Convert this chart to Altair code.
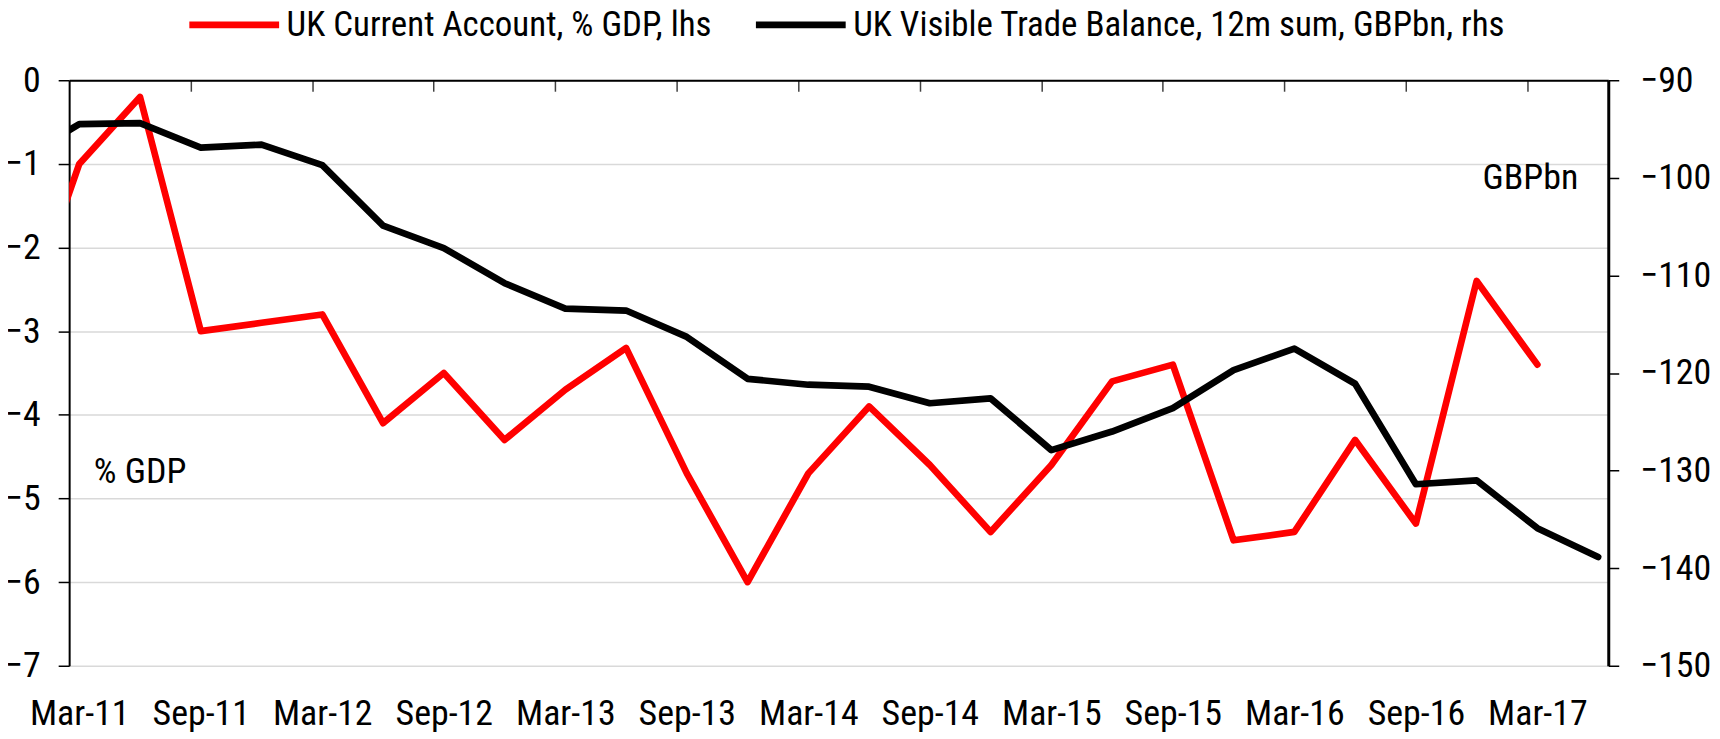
import altair as alt
import pandas as pd

# ---------------- data ----------------
ca_quarters = ["Dec-10", "Mar-11", "Jun-11", "Sep-11", "Dec-11", "Mar-12", "Jun-12", "Sep-12",
               "Dec-12", "Mar-13", "Jun-13", "Sep-13", "Dec-13", "Mar-14", "Jun-14", "Sep-14",
               "Dec-14", "Mar-15", "Jun-15", "Sep-15", "Dec-15", "Mar-16", "Jun-16", "Sep-16",
               "Dec-16", "Mar-17"]
ca_values = [-3.1, -1.0, -0.2, -3.0, -2.9, -2.8, -4.1, -3.5,
             -4.3, -3.7, -3.2, -4.7, -6.0, -4.7, -3.9, -4.6,
             -5.4, -4.6, -3.6, -3.4, -5.5, -5.4, -4.3, -5.3,
             -2.4, -3.4]

tb_quarters = ca_quarters + ["Jun-17"]
tb_values = [-98.2, -94.5, -94.4, -96.9, -96.6, -98.7, -104.9, -107.2,
             -110.8, -113.4, -113.6, -116.3, -120.6, -121.2, -121.4, -123.1,
             -122.6, -127.9, -126.0, -123.6, -119.7, -117.5, -121.1, -131.4,
             -131.0, -135.9, -138.85]

tick_labels = ["Mar-11", "Sep-11", "Mar-12", "Sep-12", "Mar-13", "Sep-13", "Mar-14",
               "Sep-14", "Mar-15", "Sep-15", "Mar-16", "Sep-16", "Mar-17"]

CA_NAME = "UK Current Account, % GDP, lhs"
TB_NAME = "UK Visible Trade Balance, 12m sum, GBPbn, rhs"

# annotation texts (month position, value on own axis)
gdp_note = {"t": ["% GDP"], "m": [1.22], "v": [-4.81]}
gbp_note = {"t": ["GBPbn"], "m": [74.52], "v": [-101.14]}

MONTHS = {"Mar": 3, "Jun": 6, "Sep": 9, "Dec": 12}


def month_pos(q):
    mon, yy = q.split("-")
    return (2000 + int(yy) - 2011) * 12 + MONTHS[mon] - 3 + 0.5


ca_df = pd.DataFrame({"q": ca_quarters, "m": [month_pos(q) for q in ca_quarters],
                      "v": ca_values, "series": CA_NAME})
tb_df = pd.DataFrame({"q": tb_quarters, "m": [month_pos(q) for q in tb_quarters],
                      "v": tb_values, "series": TB_NAME})

# ---------------- styling ----------------
FONT = "Roboto Condensed"
FS = 36
W, H = 1543, 587
N_MONTHS = 76

x_scale = alt.Scale(domain=[0, N_MONTHS], nice=False, zero=False)
yl_scale = alt.Scale(domain=[-7, 0], nice=False, zero=False)
yr_scale = alt.Scale(domain=[-150, -90], nice=False, zero=False)

color = alt.Color(
    "series:N",
    scale=alt.Scale(domain=[CA_NAME, TB_NAME], range=["#ff0000", "#000000"]),
    legend=alt.Legend(
        orient="none", legendX=117, legendY=-75.5, direction="horizontal", columns=2,
        title=None, symbolType="stroke", symbolSize=8100, symbolStrokeWidth=6.7,
        labelFont=FONT, labelFontSize=35, labelColor="black", labelOffset=4,
        columnPadding=40, clipHeight=40, padding=0, labelLimit=2000,
    ),
)

label_vals = [0.5 + 6 * i for i in range(len(tick_labels))]
label_expr = "[" + ",".join("'%s'" % t for t in tick_labels) + "][floor(datum.value/6)]"

x_label_axis = alt.Axis(
    orient="bottom", values=label_vals, labelExpr=label_expr, ticks=False, tickSize=0,
    domain=False, grid=False, labelFont=FONT, labelFontSize=FS, labelColor="black",
    labelPadding=59, labelBaseline="alphabetic", labelFlush=False, labelOverlap=False,
    title=None,
)
x_tick_axis = alt.Axis(
    orient="bottom", offset=-H, values=[6 * i for i in range(1, 13)], labels=False,
    ticks=True, tickSize=11, tickColor="#404040", tickWidth=1.5, domain=True,
    domainColor="black", domainWidth=2, grid=False, title=None,
)

left_axis = alt.Axis(
    orient="left", values=list(range(-7, 1)), grid=True, gridColor="#d9d9d9",
    gridWidth=1.5, domainColor="black", domainWidth=2, tickColor="black",
    tickSize=11, tickWidth=1.5, labelFont=FONT, labelFontSize=FS, labelColor="black",
    labelPadding=18, title=None,
)
right_axis = alt.Axis(
    orient="right", values=list(range(-150, -89, 10)), grid=False, domainColor="black",
    domainWidth=3, tickColor="black", tickSize=10.5, tickWidth=1.5, labelFont=FONT,
    labelFontSize=FS, labelColor="black", labelPadding=21, title=None,
)

red = alt.Chart(ca_df).mark_line(
    clip=True, strokeWidth=6.7, strokeCap="round", strokeJoin="round"
).encode(
    x=alt.X("m:Q", scale=x_scale, axis=x_label_axis),
    y=alt.Y("v:Q", scale=yl_scale, axis=left_axis),
    color=color,
)

black = alt.Chart(tb_df).mark_line(
    clip=True, strokeWidth=6.7, strokeCap="round", strokeJoin="round"
).encode(
    x=alt.X("m:Q", scale=x_scale, axis=x_tick_axis),
    y=alt.Y("v:Q", scale=yr_scale, axis=right_axis),
    color=color,
)

gdp_text = alt.Chart(pd.DataFrame(gdp_note)).mark_text(
    align="left", baseline="alphabetic", font=FONT, fontSize=FS, color="black"
).encode(
    x=alt.X("m:Q", scale=x_scale, axis=None),
    y=alt.Y("v:Q", scale=yl_scale, axis=None),
    text="t:N",
)

gbp_text = alt.Chart(pd.DataFrame(gbp_note)).mark_text(
    align="right", baseline="alphabetic", font=FONT, fontSize=FS, color="black"
).encode(
    x=alt.X("m:Q", scale=x_scale, axis=None),
    y=alt.Y("v:Q", scale=yr_scale, axis=None),
    text="t:N",
)

chart = alt.layer(red, black, gdp_text, gbp_text).resolve_scale(
    y="independent"
).resolve_axis(
    x="independent", y="independent"
).properties(
    width=W, height=H,
    padding={"left": 61.3, "top": 71.5, "right": 104, "bottom": 72},
    autosize=alt.AutoSizeParams(type="none"),
    background="white",
).configure_view(stroke=None)

chart.save("out.html", embed_options={"renderer": "svg", "actions": False})
